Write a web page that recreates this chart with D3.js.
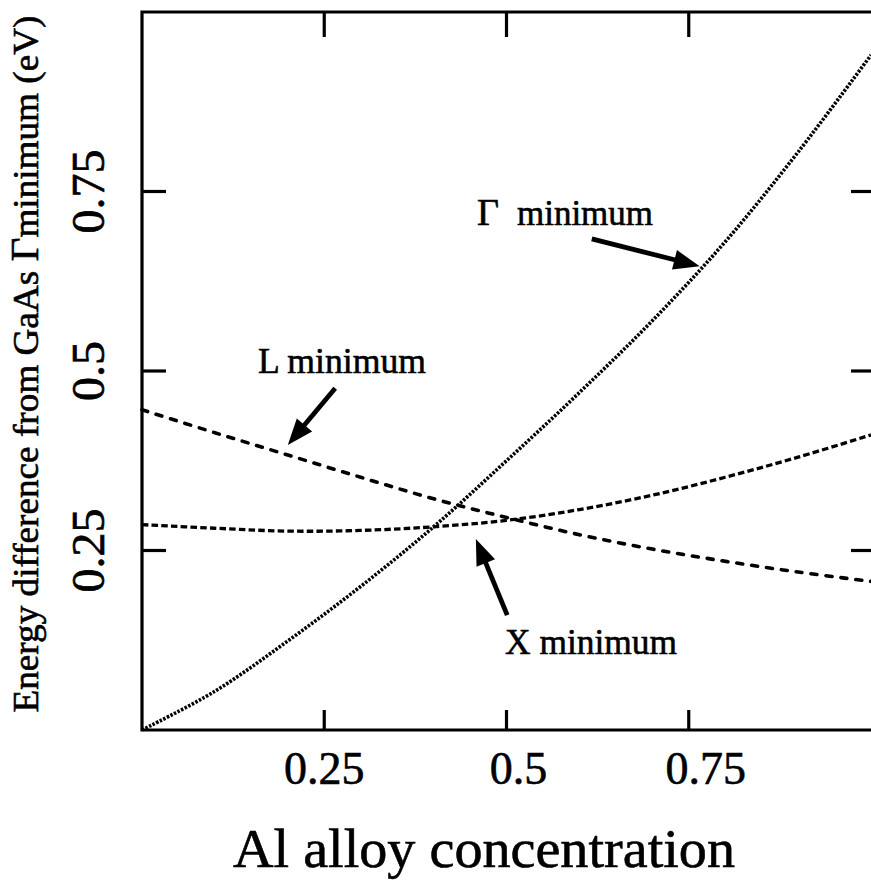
<!DOCTYPE html>
<html>
<head>
<meta charset="utf-8">
<script src="https://cdn.jsdelivr.net/npm/d3@7"></script>
<style>
  html, body { margin: 0; padding: 0; background: #fff; }
  svg { display: block; }
</style>
</head>
<body>
<svg id="chart" width="871" height="892"></svg>
<script>
// Al fraction of AlGaAs
const concentration = [0, 0.1, 0.2, 0.3, 0.4, 0.5, 0.6, 0.7, 0.8, 0.9, 1.0];
// Conduction-band minima measured from the GaAs Gamma minimum (eV)
const gammaMinimum = [0, 0.054, 0.124, 0.200, 0.283, 0.375, 0.470, 0.570, 0.680, 0.805, 0.940];
const lMinimum     = [0.446, 0.414, 0.383, 0.352, 0.322, 0.296, 0.272, 0.252, 0.235, 0.220, 0.207];
const xMinimum     = [0.286, 0.281, 0.277, 0.278, 0.283, 0.292, 0.307, 0.327, 0.352, 0.380, 0.411];

const xTickValues = [0.25, 0.5, 0.75];
const yTickValues = [0.25, 0.5, 0.75];
const xTickLabels = ["0.25", "0.5", "0.75"];
const yTickLabels = ["0.25", "0.5", "0.75"];

const serif = "'Liberation Serif', 'Times New Roman', Times, serif";
const svg = d3.select("#chart")
  .attr("font-family", serif);
const plotLeft = 142, plotRight = 871, plotTop = 12, plotBottom = 730;

const x = d3.scaleLinear().domain([0, 1]).range([plotLeft, plotRight]);
const y = d3.scaleLinear().domain([0, 1]).range([plotBottom, plotTop]);

// frame
svg.append("path")
  .attr("d", `M${plotRight + 3},${plotTop} H${plotLeft} V${plotBottom} H${plotRight + 3}`)
  .attr("fill", "none").attr("stroke", "#000").attr("stroke-width", 3.2)
  .attr("stroke-linejoin", "miter");

// ticks on all four sides
const tickG = svg.append("g").attr("stroke", "#000").attr("stroke-width", 3.2);
xTickValues.forEach(v => {
  tickG.append("line").attr("x1", x(v)).attr("x2", x(v)).attr("y1", plotBottom).attr("y2", plotBottom - 20);
  tickG.append("line").attr("x1", x(v)).attr("x2", x(v)).attr("y1", plotTop).attr("y2", plotTop + 25);
});
yTickValues.forEach(v => {
  tickG.append("line").attr("x1", plotLeft).attr("x2", plotLeft + 24).attr("y1", y(v)).attr("y2", y(v));
  tickG.append("line").attr("x1", plotRight).attr("x2", plotRight - 20).attr("y1", y(v)).attr("y2", y(v));
});

// all text shares a slight outline so the glyphs read as heavy as printed type
const textStyle = sel => sel
  .attr("font-family", serif)
  .attr("fill", "#000")
  .attr("stroke", "#000")
  .attr("stroke-width", 0.6);

// tick labels
const xLabelNudge = [0, 12, 17];
svg.append("g").call(textStyle)
  .selectAll("text").data(xTickValues).join("text")
  .attr("x", (d, i) => x(d) + xLabelNudge[i])
  .attr("y", 784)
  .attr("text-anchor", "middle")
  .attr("font-size", 46)
  .text((d, i) => xTickLabels[i]);

svg.append("g").call(textStyle)
  .selectAll("text").data(yTickValues).join("text")
  .attr("transform", d => `translate(104,${y(d)}) rotate(-90)`)
  .attr("text-anchor", "middle")
  .attr("font-size", 46)
  .attr("textLength", (d, i) => yTickLabels[i].length === 4 ? 84 : 60)
  .attr("lengthAdjust", "spacingAndGlyphs")
  .text((d, i) => yTickLabels[i]);

// axis titles
svg.append("text").call(textStyle)
  .attr("x", (233 + 735) / 2).attr("y", 867)
  .attr("text-anchor", "middle")
  .attr("font-size", 54)
  .attr("textLength", 502).attr("lengthAdjust", "spacingAndGlyphs")
  .text("Al alloy concentration");

const yTitle = svg.append("text").call(textStyle)
  .attr("transform", "translate(38,364) rotate(-90)")
  .attr("text-anchor", "middle")
  .attr("font-size", 36)
  .attr("textLength", 697).attr("lengthAdjust", "spacingAndGlyphs");
yTitle.append("tspan").text("Energy difference from GaAs ");
yTitle.append("tspan").attr("font-size", 40).text("Γ");
yTitle.append("tspan").text("minimum (eV)");

// curves
const line = d3.line().x((d, i) => x(concentration[i])).y(d => y(d)).curve(d3.curveCatmullRom);

svg.append("path").datum(gammaMinimum)
  .attr("d", line).attr("fill", "none").attr("stroke", "#000")
  .attr("stroke-width", 3.6).attr("stroke-dasharray", "2.5 1.5");

svg.append("path").datum(lMinimum)
  .attr("d", line).attr("fill", "none").attr("stroke", "#000")
  .attr("stroke-width", 3.6).attr("stroke-dasharray", "6 9").attr("stroke-linecap", "round");

svg.append("path").datum(xMinimum)
  .attr("d", line).attr("fill", "none").attr("stroke", "#000")
  .attr("stroke-width", 3.3).attr("stroke-dasharray", "6.5 3.2");

// labelled arrows pointing at each curve
const arrows = [
  { tail: [0.617, 0.684], tip: [0.765, 0.646] },
  { tail: [0.265, 0.476], tip: [0.200, 0.397] },
  { tail: [0.501, 0.160], tip: [0.458, 0.266] }
];
const arrowG = svg.append("g");
arrows.forEach(a => {
  const tx = x(a.tail[0]), ty = y(a.tail[1]);
  const px = x(a.tip[0]), py = y(a.tip[1]);
  const len = Math.hypot(px - tx, py - ty);
  const ux = (px - tx) / len, uy = (py - ty) / len;
  const headLen = 26, headHalf = 10;
  const bx = px - ux * headLen, by = py - uy * headLen;
  arrowG.append("line")
    .attr("x1", tx).attr("y1", ty).attr("x2", bx + ux * 4).attr("y2", by + uy * 4)
    .attr("stroke", "#000").attr("stroke-width", 4.8);
  arrowG.append("path")
    .attr("d", `M${px},${py} L${bx - uy * headHalf},${by + ux * headHalf} L${bx + uy * headHalf},${by - ux * headHalf} Z`)
    .attr("fill", "#000");
});

// curve labels
const labelG = svg.append("g").call(textStyle).attr("font-size", 36);
labelG.append("text").attr("x", 477).attr("y", 225).attr("font-size", 38).text("Γ");
labelG.append("text").attr("x", 517).attr("y", 225).attr("textLength", 136).attr("lengthAdjust", "spacingAndGlyphs").text("minimum");
labelG.append("text").attr("x", 258).attr("y", 373).attr("textLength", 168).attr("lengthAdjust", "spacingAndGlyphs").text("L minimum");
labelG.append("text").attr("x", 505).attr("y", 654).attr("textLength", 172).attr("lengthAdjust", "spacingAndGlyphs").text("X minimum");
</script>
</body>
</html>
